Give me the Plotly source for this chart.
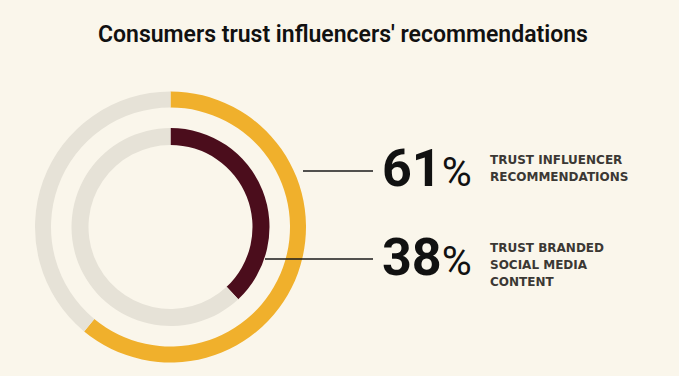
import plotly.graph_objects as go

W, H = 679, 376

title = "Consumers trust influencers' recommendations"
categories = ["Trust influencer recommendations", "Trust branded social media content"]
values = [61, 38]
big_labels = ["61%", "38%"]
desc_labels = [["TRUST INFLUENCER", "RECOMMENDATIONS"],
               ["TRUST BRANDED", "SOCIAL MEDIA", "CONTENT"]]

BG = "#FAF6EB"
REST = "#E6E2D7"
ring_colors = ["#F0B02C", "#4B0D1C"]

# ring geometry in pixels (center, outer radius, inner radius)
cx, cy = 170.5, 227
rings = [(135.5, 119.5), (99, 82)]

def px_x(x):
    return x / W

def px_y(y):
    return 1 - y / H

fig = go.Figure()
for (ro, ri), v, col, name in zip(rings, values, ring_colors, categories):
    fig.add_trace(go.Pie(
        values=[v, 100 - v],
        labels=[name, "Other"],
        marker=dict(colors=[col, REST], line=dict(width=0)),
        hole=ri / ro,
        sort=False,
        direction="clockwise",
        rotation=0,
        textinfo="none",
        hoverinfo="label+value",
        showlegend=False,
        domain=dict(x=[px_x(cx - ro), px_x(cx + ro)], y=[px_y(cy + ro), px_y(cy - ro)]),
    ))

# leader lines
line_y = [171, 259]
line_x0 = [303, 265]
line_x1 = 373
for y, x0 in zip(line_y, line_x0):
    fig.add_shape(type="line", xref="paper", yref="paper",
                  x0=px_x(x0), x1=px_x(line_x1), y0=px_y(y), y1=px_y(y),
                  line=dict(color="#1a1a1a", width=1.5), layer="above")

big_y = [168.5, 257.5]
for lab, y in zip(big_labels, big_y):
    num, pct = lab[:-1], lab[-1]
    fig.add_annotation(xref="paper", yref="paper", x=px_x(380), y=px_y(y),
                       xanchor="left", yanchor="middle", showarrow=False,
                       text=f"<b>{num}</b><span style='font-size:41px'>{pct}</span>",
                       font=dict(family="Roboto", size=52, color="#111111"))

desc_y = [151, 238.5]
for lines, y in zip(desc_labels, desc_y):
    text = "<br>".join(f"<span style='font-size:12px'>{t}</span>" for t in lines)
    fig.add_annotation(xref="paper", yref="paper", x=px_x(488), y=px_y(y),
                       xanchor="left", yanchor="top", showarrow=False, align="left",
                       text=text,
                       font=dict(family="DejaVu Sans", size=13, color="#3b3834", weight="bold"))

fig.add_annotation(xref="paper", yref="paper", x=px_x(343), y=px_y(34),
                   xanchor="center", yanchor="middle", showarrow=False,
                   text=title,
                   font=dict(family="Roboto", size=23, color="#111111", weight=600))

fig.update_layout(width=W, height=H, margin=dict(l=0, r=0, t=0, b=0),
                  paper_bgcolor=BG, plot_bgcolor=BG)

fig.write_html("out.html", config={"displayModeBar": False},
               post_script="document.body.style.margin='0';document.body.style.background='" + BG + "';")
